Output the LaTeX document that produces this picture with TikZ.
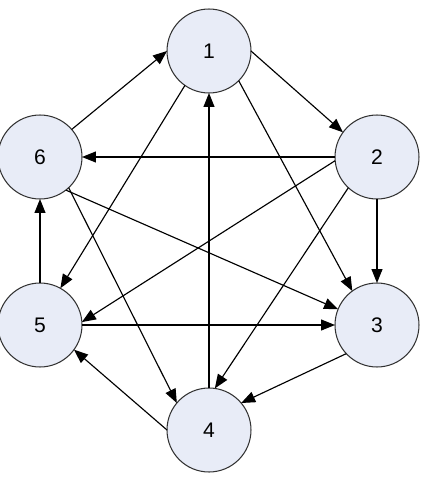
\documentclass[tikz,border=0pt]{standalone}
\usepackage{fontspec}
\setmainfont{Liberation Sans}
\usepackage{xcolor}
\usetikzlibrary{shapes}
\usetikzlibrary{arrows.meta}
\definecolor{vertexfill}{RGB}{232,236,247}
\definecolor{vertexline}{RGB}{50,50,50}

\begin{document}
\begin{tikzpicture}[x=0.02cm,y=-0.02cm]
\tikzset{vertex/.style={circle,draw=vertexline,fill=vertexfill,line width=0.6pt,minimum size=1.68cm,inner sep=0pt,outer sep=0pt,font=\fontsize{12}{14}\selectfont},
edge/.style={line width=0.65pt,-{Triangle[length=0.28cm,width=0.22cm]}}}
\useasboundingbox (0,0) rectangle (421,480);
\node[vertex](v1) at (209,51){1};
\node[vertex](v2) at (377,157){2};
\node[vertex](v3) at (377,325){3};
\node[vertex](v4) at (209,430){4};
\node[vertex](v5) at (40,325){5};
\node[vertex](v6) at (40,157){6};
\draw[edge](v6.41) -- (v1.180);
\draw[edge](v1.0) -- (v2.144);
\draw[edge](v1.235) -- (v5.61);
\draw[edge](v1.315) -- (v3.126);
\draw[edge](v4.90) -- (v1.270);
\draw[edge](v2.180) -- (v6.0);
\draw[edge](v2.185) -- (v5.4);
\draw[edge](v2.227) -- (v4.82);
\draw[edge](v2.270) -- (v3.90);
\draw[edge](v6.308) -- (v3.158);
\draw[edge](v6.313) -- (v4.140);
\draw[edge](v5.0) -- (v3.180);
\draw[edge](v3.223) -- (v4.40);
\draw[edge](v4.180) -- (v5.324);
\draw[edge](v5.90) -- (v6.270);
\end{tikzpicture}
\end{document}
